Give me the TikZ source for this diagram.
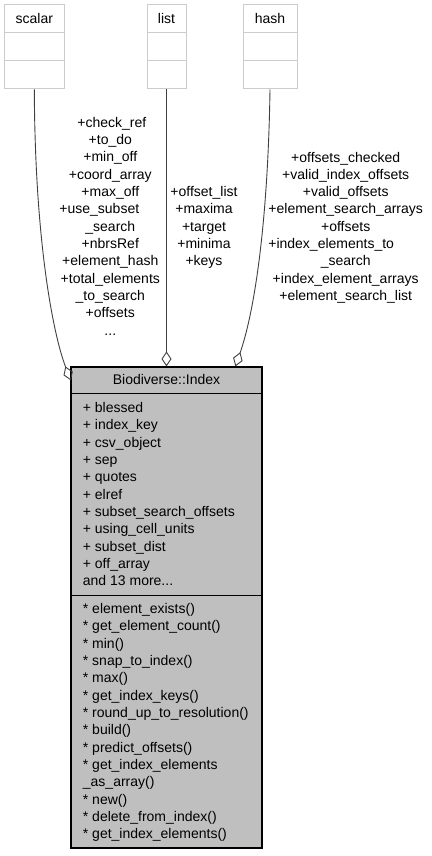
\documentclass[tikz,border=0pt]{standalone}
\usepackage{fontspec}
\setmainfont{Liberation Sans}
\usetikzlibrary{arrows.meta, positioning, calc}
\definecolor{edgegray}{RGB}{64, 64, 64}
\definecolor{boxgray}{RGB}{191, 191, 191}
\definecolor{linegray}{RGB}{204, 204, 204}
\newcommand{\dgfont}{\fontsize{14}{17.3}\selectfont}

\begin{document}
\begin{tikzpicture}[x=1pt, y=-1pt,
    cls/.style={rectangle, draw=linegray, line width=1pt, fill=white, minimum height=84pt, inner sep=0pt},
    idxbox/.style={rectangle, draw=black, line width=1.2pt, fill=boxgray, minimum width=191pt, minimum height=481pt, inner sep=0pt},
    sep/.style={draw=linegray, line width=1pt},
    txt/.style={font=\dgfont, inner sep=0pt, anchor=base},
    member/.style={txt, anchor=base west},
    agg/.style={draw=edgegray, line width=0.9pt, -{Diamond[open, length=15pt, width=10pt]}}
]
\useasboundingbox (0,0) rectangle (431,856);

% types
\node[cls, minimum width=60pt] (scalar) at (34.3,47) {};
\node[cls, minimum width=39pt] (list) at (166.5,47) {};
\node[cls, minimum width=54pt] (hash) at (270,47) {};
\foreach \b in {scalar,list,hash}
  \foreach \dy in {28.5,56.5}
    \draw[sep] ($(\b.north west)+(0,\dy)$) -- ($(\b.north east)+(0,\dy)$);
\node[txt] (scalar-t) at (34.3,23.3) {scalar};
\node[txt] (list-t) at (166.5,23.3) {list};
\node[txt] (hash-t) at (270,23.3) {hash};

% the class
\node[idxbox] (idx) at (166.5,607.5) {};
\draw[black, line width=1.2pt] ($(idx.north west)+(0,27)$) -- ($(idx.north east)+(0,27)$);
\draw[black, line width=1.2pt] ($(idx.north west)+(0,229)$) -- ($(idx.north east)+(0,229)$);
\node[txt] (idx-t) at (166.5,384.5) {Biodiverse::Index};

\foreach \t [count=\i from 0] in {+ blessed, + index\_key, + csv\_object, + sep, + quotes, + elref,
    + subset\_search\_offsets, + using\_cell\_units, + subset\_dist, + off\_array}
  \node[member] (attr\i) at (82.7,{412.5+17.33*\i}) {\t};
\node[member] (attr-more) at (82.7,585.8) {and 13 more...};

\foreach \t [count=\i from 0] in {* element\_exists(), * get\_element\_count(), * min(), * snap\_to\_index(),
    * max(), * get\_index\_keys(), * round\_up\_to\_resolution(), * build(), * predict\_offsets(),
    * get\_index\_elements, \_as\_array(), * new(), * delete\_from\_index(), * get\_index\_elements()}
  \node[member] (meth\i) at (82.7,{613.3+17.35*\i}) {\t};

% aggregations
\draw[agg] (scalar.south) .. controls (35,250) and (55,340) .. ($(idx.north west)+(0.5,14)$);
\draw[agg] (list.south) -- (idx.north);
\draw[agg] (hash.south) .. controls (268,220) and (255,310) .. ($(idx.north west)+(165,0)$);

% edge labels
\foreach \t/\dx [count=\i from 0] in {+check\_ref/1.5, +to\_do/0, +min\_off/0, +coord\_array/0, +max\_off/0,
    +use\_subset/-11, \_search/0, +nbrsRef/0, +element\_hash/0, +total\_elements/0, \_to\_search/0, +offsets/0}
  \node[txt] (sl\i) at ({110.3+\dx},{127.3+17.33*\i}) {\t};
\node[txt] (sl-dots) at (110.3,335.3) {...};

\foreach \t [count=\i from 0] in {+offset\_list, +maxima, +target, +minima, +keys}
  \node[txt] (ll\i) at (204,{196.6+17.33*\i}) {\t};

\foreach \t/\dx [count=\i from 0] in {+offsets\_checked/0, +valid\_index\_offsets/0, +valid\_offsets/0,
    +element\_search\_arrays/0, +offsets/0, +index\_elements\_to/-14.5, \_search/0,
    +index\_element\_arrays/0, +element\_search\_list/0}
  \node[txt] (hl\i) at ({345.7+\dx},{162+17.33*\i}) {\t};
\end{tikzpicture}
\end{document}
